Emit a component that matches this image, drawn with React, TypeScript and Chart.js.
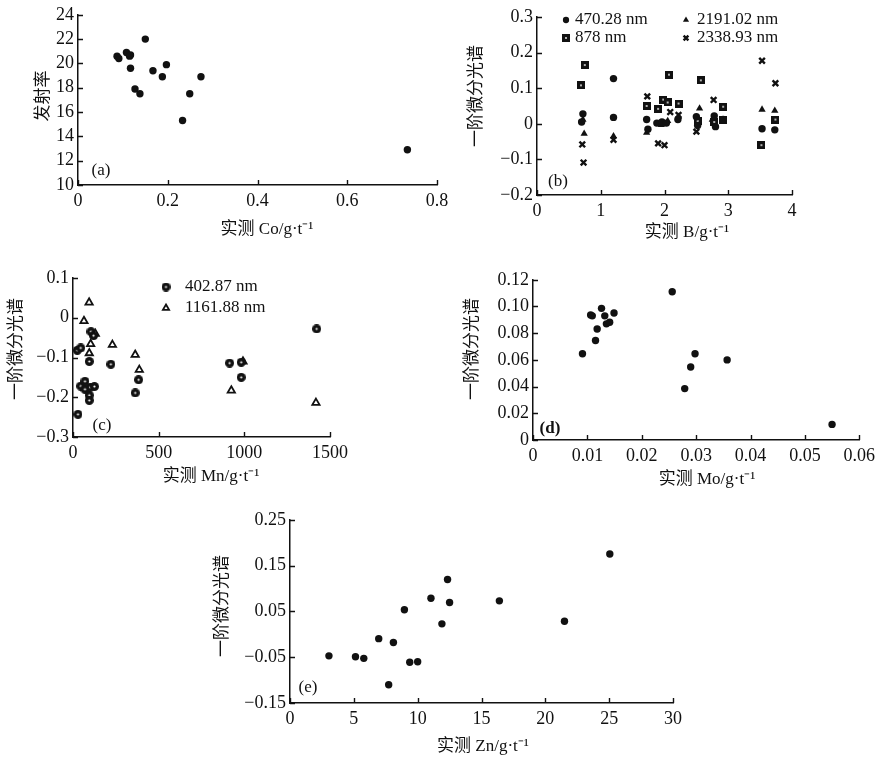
import React, { useEffect, useRef } from 'react';
import { Chart, registerables } from 'chart.js';
import { drawPoint } from 'chart.js/helpers';

Chart.register(...registerables);

// ---------------- data ----------------
// (a) Co vs emissivity
const coX = [0.087, 0.091, 0.108, 0.115, 0.117, 0.150, 0.117, 0.167, 0.197, 0.188, 0.127, 0.138, 0.274, 0.249, 0.233, 0.734];
const coY = [20.6, 20.4, 20.9, 20.6, 20.7, 22.0, 19.6, 19.4, 19.9, 18.9, 17.9, 17.5, 18.9, 17.5, 15.3, 12.9];
const coXTicks = [0, 0.2, 0.4, 0.6, 0.8];
const coXLabels = ['0', '0.2', '0.4', '0.6', '0.8'];
const coYTicks = [10, 12, 14, 16, 18, 20, 22, 24];
const coYLabels = ['10', '12', '14', '16', '18', '20', '22', '24'];

// (b) B vs first derivative spectrum
const b470X = [0.72, 0.70, 1.20, 1.20, 1.72, 1.74, 1.88, 1.96, 2.03, 2.21, 2.50, 2.52, 2.78, 2.80, 2.92, 3.53, 3.73];
const b470Y = [0.028, 0.005, 0.127, 0.018, 0.012, -0.015, 0.002, 0.005, 0.002, 0.012, 0.02, -0.005, 0.022, -0.008, 0.012, -0.014, -0.017];
const b878X = [0.75, 0.69, 1.72, 1.90, 1.98, 2.05, 2.07, 2.22, 2.52, 2.57, 2.78, 2.92, 2.91, 3.52, 3.74];
const b878Y = [0.165, 0.108, 0.05, 0.042, 0.068, 0.06, 0.138, 0.057, 0.008, 0.122, 0.005, 0.048, 0.01, -0.06, 0.012];
const b2191X = [0.74, 0.72, 1.20, 1.72, 1.95, 2.05, 2.22, 2.55, 2.75, 3.53, 3.73];
const b2191Y = [-0.028, 0.012, -0.035, -0.025, -0.003, 0.008, 0.02, 0.043, 0.012, 0.04, 0.037];
const b2338X = [0.71, 0.73, 1.20, 1.73, 1.90, 2.00, 2.09, 2.22, 2.50, 2.77, 3.53, 3.74];
const b2338Y = [-0.058, -0.109, -0.045, 0.077, -0.055, -0.06, 0.033, 0.025, -0.022, 0.067, 0.177, 0.114];
const bXTicks = [0, 1, 2, 3, 4];
const bXLabels = ['0', '1', '2', '3', '4'];
const bYTicks = [-0.2, -0.1, 0, 0.1, 0.2, 0.3];
const bYLabels = ['\u22120.2', '\u22120.1', '0', '0.1', '0.2', '0.3'];

// (c) Mn vs first derivative spectrum
const mn402X = [25, 45, 29, 105, 120, 95, 221, 383, 363, 914, 982, 982, 1422, 45, 70, 100, 70, 95, 95, 125];
const mn402Y = [-0.082, -0.076, -0.243, -0.035, -0.045, -0.11, -0.117, -0.156, -0.189, -0.114, -0.112, -0.15, -0.028, -0.172, -0.16, -0.175, -0.18, -0.195, -0.208, -0.173];
const mn1161X = [64, 94, 130, 103, 95, 230, 363, 387, 924, 992, 1418];
const mn1161Y = [-0.008, 0.0385, -0.04, -0.066, -0.089, -0.068, -0.093, -0.131, -0.183, -0.11, -0.214];
const mnXTicks = [0, 500, 1000, 1500];
const mnXLabels = ['0', '500', '1000', '1500'];
const mnYTicks = [-0.3, -0.2, -0.1, 0, 0.1];
const mnYLabels = ['\u22120.3', '\u22120.2', '\u22120.1', '0', '0.1'];

// (d) Mo vs first derivative spectrum
const moX = [0.0091, 0.0106, 0.0109, 0.0115, 0.0118, 0.0126, 0.0132, 0.0135, 0.0141, 0.0149, 0.0256, 0.0298, 0.0290, 0.0279, 0.0357, 0.0550];
const moY = [0.0646, 0.0937, 0.093, 0.0745, 0.0832, 0.0986, 0.093, 0.087, 0.0882, 0.0951, 0.111, 0.0646, 0.0547, 0.0385, 0.060, 0.0117];
const moXTicks = [0, 0.01, 0.02, 0.03, 0.04, 0.05, 0.06];
const moXLabels = ['0', '0.01', '0.02', '0.03', '0.04', '0.05', '0.06'];
const moYTicks = [0, 0.02, 0.04, 0.06, 0.08, 0.10, 0.12];
const moYLabels = ['0', '0.02', '0.04', '0.06', '0.08', '0.10', '0.12'];

// (e) Zn vs first derivative spectrum
const znX = [3.05, 5.13, 5.78, 6.95, 8.1, 7.73, 8.96, 9.38, 10.0, 11.04, 11.9, 12.34, 12.5, 16.4, 21.5, 25.05];
const znY = [-0.047, -0.049, -0.0525, -0.0095, -0.018, -0.11, 0.0536, -0.061, -0.06, 0.0787, 0.0228, 0.1195, 0.0694, 0.073, 0.0285, 0.1754];
const znXTicks = [0, 5, 10, 15, 20, 25, 30];
const znXLabels = ['0', '5', '10', '15', '20', '25', '30'];
const znYTicks = [-0.15, -0.05, 0.05, 0.15, 0.25];
const znYLabels = ['\u22120.15', '\u22120.05', '0.05', '0.15', '0.25'];

// ---------------- styling / layout ----------------
const INK = '#111';
const FAMILY = '"Liberation Serif", "Noto Sans CJK SC", serif';
const TICK_SIZE = 18;
const TITLE_FONT = `17px ${FAMILY}`;
const LABEL_FONT = `17px ${FAMILY}`;

type Box = { left: number; top: number; w: number; h: number };
type Plot = { l: number; t: number; r: number; b: number };
type Txt = { text: string; x: number; y: number; rot?: boolean; font?: string };
type Leg = { ds: number; mx: number; tx: number; y: number };

type Layout = {
  id: string;
  canvas: Box;
  plot: Plot;
  xr: [number, number];
  yr: [number, number];
  xTicks: number[];
  xLabels: string[];
  yTicks: number[];
  yLabels: string[];
  texts: Txt[];
  legend?: Leg[];
};

const LAYOUT: Layout[] = [
  {
    id: 'a',
    canvas: { left: 0, top: 0, w: 460, h: 250 },
    plot: { l: 78, t: 12, r: 437, b: 185 },
    xr: [0, 0.8], yr: [10, 24],
    xTicks: coXTicks, xLabels: coXLabels, yTicks: coYTicks, yLabels: coYLabels,
    texts: [
      { text: '发射率', x: 44, y: 96, rot: true },
      { text: '实测 Co/g·t⁻¹', x: 267, y: 230 },
      { text: '(a)', x: 101, y: 171, font: LABEL_FONT },
    ],
  },
  {
    id: 'b',
    canvas: { left: 455, top: 0, w: 365, h: 250 },
    plot: { l: 537, t: 17, r: 792, b: 195 },
    xr: [0, 4], yr: [-0.2, 0.3],
    xTicks: bXTicks, xLabels: bXLabels, yTicks: bYTicks, yLabels: bYLabels,
    texts: [
      { text: '一阶微分光谱', x: 477, y: 96, rot: true },
      { text: '实测 B/g·t⁻¹', x: 687, y: 233 },
      { text: '(b)', x: 558, y: 182, font: LABEL_FONT },
    ],
    legend: [
      { ds: 0, mx: 566, tx: 575, y: 20 },
      { ds: 2, mx: 686, tx: 697, y: 20 },
      { ds: 1, mx: 566, tx: 575, y: 38 },
      { ds: 3, mx: 686, tx: 697, y: 38 },
    ],
  },
  {
    id: 'c',
    canvas: { left: 0, top: 260, w: 360, h: 230 },
    plot: { l: 73, t: 278, r: 330, b: 437 },
    xr: [0, 1500], yr: [-0.3, 0.1],
    xTicks: mnXTicks, xLabels: mnXLabels, yTicks: mnYTicks, yLabels: mnYLabels,
    texts: [
      { text: '一阶微分光谱', x: 17, y: 349, rot: true },
      { text: '实测 Mn/g·t⁻¹', x: 211, y: 477 },
      { text: '(c)', x: 102, y: 426, font: LABEL_FONT },
    ],
    legend: [
      { ds: 0, mx: 166, tx: 185, y: 287 },
      { ds: 1, mx: 166, tx: 185, y: 308 },
    ],
  },
  {
    id: 'd',
    canvas: { left: 460, top: 265, w: 420, h: 230 },
    plot: { l: 533, t: 279, r: 862, b: 440 },
    xr: [0, 0.06], yr: [0, 0.12],
    xTicks: moXTicks, xLabels: moXLabels, yTicks: moYTicks, yLabels: moYLabels,
    texts: [
      { text: '一阶微分光谱', x: 473, y: 349, rot: true },
      { text: '实测 Mo/g·t⁻¹', x: 707, y: 480 },
      { text: '(d)', x: 550, y: 429, font: `bold 17px ${FAMILY}` },
    ],
  },
  {
    id: 'e',
    canvas: { left: 200, top: 505, w: 500, h: 257 },
    plot: { l: 290, t: 517, r: 673, b: 703 },
    xr: [0, 30], yr: [-0.15, 0.25],
    xTicks: znXTicks, xLabels: znXLabels, yTicks: znYTicks, yLabels: znYLabels,
    texts: [
      { text: '一阶微分光谱', x: 223, y: 606, rot: true },
      { text: '实测 Zn/g·t⁻¹', x: 483, y: 747 },
      { text: '(e)', x: 308, y: 688, font: LABEL_FONT },
    ],
  },
];

const pts = (xs: number[], ys: number[]) => xs.map((x, i) => ({ x, y: ys[i] }));

function dotMarker(shape: 'rect' | 'circle', size: number, dot: number): HTMLCanvasElement {
  const c = document.createElement('canvas');
  c.width = size;
  c.height = size;
  const g = c.getContext('2d')!;
  g.fillStyle = INK;
  if (shape === 'rect') {
    g.fillRect(0, 0, size, size);
  } else {
    g.beginPath();
    g.arc(size / 2, size / 2, size / 2, 0, Math.PI * 2);
    g.fill();
  }
  g.fillStyle = '#fff';
  g.beginPath();
  g.arc(size / 2, size / 2, dot, 0, Math.PI * 2);
  g.fill();
  return c;
}

function baseDs(label: string, data: { x: number; y: number }[], extra: any = {}) {
  return {
    label,
    data,
    pointStyle: 'circle',
    pointRadius: 3.7,
    pointBackgroundColor: INK,
    pointBorderColor: INK,
    pointBorderWidth: 0,
    clip: false,
    ...extra,
  };
}

function datasetsFor(id: string): any[] {
  if (id === 'a') return [baseDs('Co', pts(coX, coY))];
  if (id === 'b') {
    const sq = dotMarker('rect', 8, 0.9);
    return [
      baseDs('470.28 nm', pts(b470X, b470Y)),
      baseDs('878 nm', pts(b878X, b878Y), { pointStyle: sq, pointRadius: 4 }),
      baseDs('2191.02 nm', pts(b2191X, b2191Y), { pointStyle: 'triangle', pointRadius: 4.2 }),
      baseDs('2338.93 nm', pts(b2338X, b2338Y), { pointStyle: 'crossRot', pointRadius: 4, pointBorderWidth: 2.4 }),
    ];
  }
  if (id === 'c') {
    const dc = dotMarker('circle', 9, 1.1);
    return [
      baseDs('402.87 nm', pts(mn402X, mn402Y), { pointStyle: dc, pointRadius: 4.5 }),
      baseDs('1161.88 nm', pts(mn1161X, mn1161Y), {
        pointStyle: 'triangle', pointRadius: 4.2, pointBackgroundColor: '#fff', pointBorderWidth: 1.8,
      }),
    ];
  }
  if (id === 'd') return [baseDs('Mo', pts(moX, moY))];
  return [baseDs('Zn', pts(znX, znY))];
}

const decor = {
  id: 'decor',
  afterDraw(chart: any, _args: any, opts: any) {
    const ctx: CanvasRenderingContext2D = chart.ctx;
    const { left, bottom } = chart.chartArea;
    const ox = opts.ox, oy = opts.oy;
    ctx.save();
    // inward tick marks
    ctx.strokeStyle = INK;
    ctx.lineWidth = 1.4;
    const xs = chart.scales.x, ys = chart.scales.y;
    ctx.beginPath();
    xs.ticks.forEach((t: any) => {
      const px = Math.round(xs.getPixelForValue(t.value)) + 0.5;
      ctx.moveTo(px, bottom);
      ctx.lineTo(px, bottom - 5);
    });
    ys.ticks.forEach((t: any) => {
      const py = Math.round(ys.getPixelForValue(t.value)) + 0.5;
      ctx.moveTo(left, py);
      ctx.lineTo(left + 5, py);
    });
    ctx.stroke();
    // texts (axis titles, panel tags)
    (opts.texts || []).forEach((t: Txt) => {
      ctx.save();
      ctx.translate(t.x - ox, t.y - oy);
      if (t.rot) ctx.rotate(-Math.PI / 2);
      ctx.font = t.font || TITLE_FONT;
      ctx.fillStyle = INK;
      ctx.textAlign = 'center';
      ctx.textBaseline = 'middle';
      ctx.fillText(t.text, 0, 0);
      ctx.restore();
    });
    // in-plot legend
    (opts.legend || []).forEach((it: Leg) => {
      const ds = chart.data.datasets[it.ds];
      ctx.save();
      ctx.fillStyle = ds.pointBackgroundColor;
      ctx.strokeStyle = ds.pointBorderColor;
      ctx.lineWidth = ds.pointBorderWidth || 0;
      drawPoint(ctx, {
        pointStyle: ds.pointStyle,
        radius: ds.pointRadius * 0.85,
        rotation: 0,
        borderWidth: ds.pointBorderWidth || 0,
      } as any, it.mx - ox, it.y - oy);
      ctx.restore();
      ctx.font = `17px ${FAMILY}`;
      ctx.fillStyle = INK;
      ctx.textAlign = 'left';
      ctx.textBaseline = 'middle';
      ctx.fillText(ds.label, it.tx - ox, it.y - oy);
    });
    ctx.restore();
  },
};

function makeChart(canvas: HTMLCanvasElement, p: Layout) {
  const { canvas: cb, plot } = p;
  const yWidth = plot.l - cb.left;
  const xHeight = cb.top + cb.h - plot.b;
  const tickFont = { family: FAMILY, size: TICK_SIZE };
  const axisCommon = {
    type: 'linear' as const,
    grid: { display: true, drawOnChartArea: false, drawTicks: false },
    border: { display: true, color: INK, width: 1.5 },
  };
  return new Chart(canvas, {
    type: 'scatter',
    data: { datasets: datasetsFor(p.id) },
    options: {
      responsive: false,
      animation: false,
      devicePixelRatio: 1,
      events: [],
      layout: {
        padding: { left: 0, top: plot.t - cb.top, right: cb.left + cb.w - plot.r, bottom: 0 },
      },
      plugins: {
        legend: { display: false },
        tooltip: { enabled: false },
        decor: { ox: cb.left, oy: cb.top, texts: p.texts, legend: p.legend },
      } as any,
      scales: {
        x: {
          ...axisCommon,
          min: p.xr[0],
          max: p.xr[1],
          afterFit: (s: any) => { s.height = xHeight; },
          afterBuildTicks: (s: any) => { s.ticks = p.xTicks.map((v) => ({ value: v })); },
          ticks: {
            color: INK, font: tickFont, padding: 5, maxRotation: 0, autoSkip: false,
            callback: (_v: any, i: number) => p.xLabels[i],
          },
        },
        y: {
          ...axisCommon,
          min: p.yr[0],
          max: p.yr[1],
          afterFit: (s: any) => { s.width = yWidth; },
          afterBuildTicks: (s: any) => { s.ticks = p.yTicks.map((v) => ({ value: v })); },
          ticks: {
            color: INK, font: tickFont, padding: 4, autoSkip: false,
            callback: (_v: any, i: number) => p.yLabels[i],
          },
        },
      },
    } as any,
    plugins: [decor],
  });
}

export default function App() {
  const refs = useRef<(HTMLCanvasElement | null)[]>([]);
  useEffect(() => {
    const charts = LAYOUT.map((p, i) => makeChart(refs.current[i] as HTMLCanvasElement, p));
    return () => charts.forEach((c) => c.destroy());
  }, []);
  return (
    <div style={{ position: 'absolute', left: 0, top: 0, width: 880, height: 762, background: '#fff', overflow: 'hidden' }}>
      {LAYOUT.map((p, i) => (
        <canvas
          key={p.id}
          ref={(el) => { refs.current[i] = el; }}
          width={p.canvas.w}
          height={p.canvas.h}
          style={{ position: 'absolute', left: p.canvas.left, top: p.canvas.top, width: p.canvas.w, height: p.canvas.h }}
        />
      ))}
    </div>
  );
}
